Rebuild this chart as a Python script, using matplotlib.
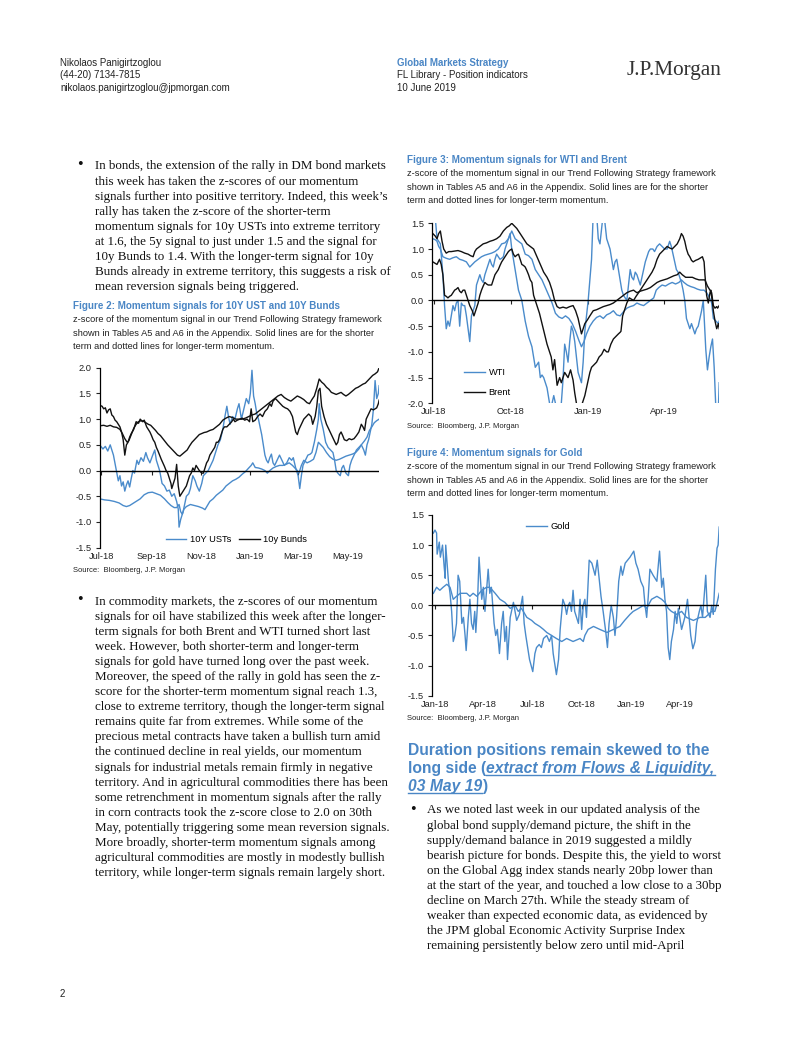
import matplotlib
matplotlib.use('Agg')
import matplotlib.pyplot as plt
from matplotlib import font_manager
from matplotlib.lines import Line2D
from matplotlib.ticker import FormatStrFormatter
import matplotlib.dates as mdates
import pandas as pd

# ---------------------------------------------------------------- data
# Figure 2: (days after 2018-07-01, z-score)
ust_short = [(-2,0.50),(2,0.42),(5,0.47),(8,0.38),(11,0.50),(13,0.40),(15,0.30),(18,0.05),(21,-0.20),(23,-0.10),
             (25,-0.30),(27,-0.22),(29,-0.40),(31,-0.28),(33,-0.20),(35,-0.32),(37,-0.15),(39,0.00),(41,-0.05),(44,0.20),
             (46,0.12),(49,0.25),(52,0.18),(55,0.35),(57,0.25),(60,0.15),(63,0.28),(66,0.40),(68,0.20),(70,0.10),
             (72,0.00),(75,-0.25),(78,-0.30),(81,-0.40),(84,-0.38),(87,-0.50),(90,-0.45),(93,-0.60),(95,-0.75),(96,-1.10),
             (98,-0.95),(101,-0.80),(103,-0.65),(105,-0.50),(108,-0.45),(110,-0.35),(113,-0.10),(116,-0.20),(118,-0.30),(121,-0.40),
             (124,-0.25),(126,-0.10),(129,-0.05),(132,0.00),(135,0.10),(138,0.20),(141,0.35),(144,0.50),(147,0.60),(150,0.80),
             (152,1.00),(155,1.25),(157,1.05),(159,0.90),(162,1.05),(165,1.00),(168,1.20),(170,1.30),(173,1.00),(176,1.20),
             (179,1.40),(182,1.30),(184,1.50),(186,1.95),(188,1.45),(190,1.30),(192,1.10),(194,1.00),(196,0.85),(198,0.70),
             (200,0.50),(202,0.30),(204,0.20),(206,0.15),(208,0.25),(210,0.32),(212,0.15),(214,0.10),(217,0.20),(220,0.30),
             (223,0.20),(226,0.10),(229,0.15),(232,0.25),(235,0.20),(237,0.25),(240,0.05),(243,-0.10),(245,-0.35),(247,-0.10),
             (249,0.10),(252,0.20),(255,0.30),(258,0.32),(260,0.35),(263,0.55),(266,0.80),(268,1.00),(269,1.30),(271,1.00),
             (274,0.80),(277,0.55),(280,0.45),(283,0.40),(286,0.35),(288,0.20),(290,0.00),(292,-0.05),(295,-0.10),(297,0.05),
             (299,0.10),(302,-0.05),(305,-0.10),(307,0.10),(309,0.20),(312,0.30),(315,0.40),(318,0.45),(321,0.50),(324,0.40),
             (326,0.30),(328,0.50),(330,0.60),(332,0.75),(334,0.90),(336,1.20),(338,1.75),(340,1.40),(342,1.50),(343,1.65)]
ust_long = [(-2,-0.55),(4,-0.57),(10,-0.58),(16,-0.60),(22,-0.63),(27,-0.68),(31,-0.70),(35,-0.68),(38,-0.65),(43,-0.60),
            (48,-0.55),(53,-0.47),(58,-0.43),(63,-0.42),(68,-0.45),(73,-0.48),(78,-0.55),(82,-0.62),(86,-0.68),(90,-0.72),
            (93,-0.72),(96,-0.66),(98,-0.80),(100,-0.85),(102,-0.75),(105,-0.70),(110,-0.66),(115,-0.68),(120,-0.70),(125,-0.73),
            (128,-0.76),(131,-0.68),(134,-0.60),(138,-0.55),(142,-0.48),(146,-0.43),(150,-0.38),(154,-0.30),(158,-0.25),(162,-0.20),
            (166,-0.17),(170,-0.13),(174,-0.07),(178,-0.02),(182,0.05),(185,0.10),(187,0.15),(190,0.06),(194,0.05),(198,0.03),
            (202,0.00),(205,-0.05),(208,0.00),(212,0.05),(216,0.08),(220,0.10),(224,0.10),(228,0.12),(232,0.15),(236,0.10),
            (239,0.05),(242,0.00),(244,-0.05),(247,0.10),(250,0.20),(254,0.15),(258,0.18),(262,0.22),(265,0.35),(268,0.55),
            (271,0.50),(274,0.45),(278,0.35),(282,0.27),(286,0.22),(290,0.20),(294,0.22),(298,0.25),(302,0.28),(306,0.30),
            (310,0.32),(314,0.35),(318,0.42),(321,0.50),(325,0.58),(328,0.65),(331,0.78),(334,0.85),(337,0.93),(340,0.97),(343,1.00)]
bund_short = [(-2,1.27),(1,1.25),(3,1.20),(5,1.22),(7,1.12),(9,1.18),(11,1.20),(13,1.08),(15,1.05),(17,0.98),
              (19,0.95),(21,0.90),(23,0.85),(25,0.75),(27,0.60),(29,0.30),(31,0.50),(33,0.55),(35,0.65),(37,0.72),
              (40,0.80),(43,0.95),(46,0.92),(48,1.00),(51,0.95),(53,0.98),(56,0.85),(58,0.80),(60,0.75),(62,0.68),
              (64,0.60),(66,0.55),(68,0.45),(70,0.38),(72,0.30),(74,0.22),(76,0.15),(78,0.08),(80,0.00),(82,-0.05),
              (84,-0.15),(86,-0.25),(87,-0.35),(89,-0.25),(91,-0.15),(93,0.12),(94,-0.10),(95,-0.30),(97,-0.50),(99,-0.45),
              (101,-0.40),(103,-0.35),(105,-0.30),(107,-0.20),(109,-0.10),(111,-0.05),(113,0.05),(115,0.00),(117,0.10),(119,0.05),
              (121,0.00),(124,-0.05),(126,-0.05),(128,0.05),(130,0.15),(132,0.20),(134,0.30),(136,0.35),(138,0.40),(140,0.45),
              (142,0.55),(144,0.55),(146,0.60),(148,0.70),(150,0.80),(152,0.85),(155,0.85),(158,0.90),(161,0.95),(163,1.00),
              (165,0.95),(168,0.98),(171,1.00),(174,1.02),(177,0.98),(180,1.00),(183,0.95),(185,1.20),(187,0.95),(190,0.98),
              (193,1.05),(196,1.10),(199,1.05),(202,1.15),(205,1.20),(208,1.30),(210,1.25),(212,1.35),(215,1.40),(218,1.35),
              (221,1.30),(224,1.25),(227,1.22),(230,1.20),(233,1.15),(236,1.05),(238,0.90),(240,0.75),(242,0.70),(244,0.80),
              (247,0.90),(250,1.00),(253,1.05),(256,1.10),(259,1.05),(261,0.90),(264,1.05),(266,1.25),(268,1.55),(270,1.60),
              (272,1.25),(275,1.05),(278,0.90),(281,0.80),(284,0.70),(287,0.60),(290,0.50),(292,0.55),(294,0.70),(296,0.75),
              (298,0.68),(300,0.60),(303,0.58),(306,0.62),(309,0.60),(312,0.62),(315,0.68),(318,0.75),(321,0.90),(323,0.85),
              (325,0.78),(327,1.00),(330,1.10),(333,1.20),(336,1.18),(338,1.20),(340,1.22),(342,1.30),(343,1.37)]
bund_long = [(-2,0.87),(3,0.88),(7,0.86),(11,0.88),(15,0.85),(19,0.84),(23,0.80),(26,0.72),(29,0.62),(32,0.55),
             (34,0.58),(37,0.70),(40,0.82),(43,0.90),(46,0.95),(49,0.97),(52,0.96),(55,0.93),(58,0.90),(61,0.88),
             (64,0.83),(67,0.78),(70,0.72),(73,0.68),(76,0.62),(79,0.56),(82,0.50),(85,0.45),(88,0.40),(91,0.35),
             (94,0.30),(97,0.28),(100,0.32),(103,0.36),(106,0.40),(109,0.48),(112,0.55),(115,0.60),(118,0.65),(121,0.70),
             (124,0.72),(127,0.74),(130,0.75),(134,0.78),(138,0.80),(142,0.85),(146,0.90),(150,0.98),(154,1.02),(158,1.05),
             (162,1.03),(166,1.00),(170,1.00),(174,1.00),(178,1.02),(182,1.05),(186,1.08),(190,1.10),(194,1.15),(198,1.20),
             (202,1.25),(206,1.30),(210,1.35),(214,1.40),(218,1.45),(222,1.48),(226,1.42),(230,1.38),(234,1.35),(238,1.40),
             (242,1.45),(246,1.42),(250,1.38),(254,1.32),(257,1.30),(260,1.38),(263,1.45),(266,1.60),(269,1.78),(272,1.72),
             (275,1.68),(278,1.62),(281,1.58),(284,1.52),(287,1.50),(290,1.48),(293,1.50),(296,1.52),(299,1.48),(302,1.45),
             (305,1.48),(308,1.52),(311,1.56),(314,1.60),(317,1.62),(320,1.65),(323,1.68),(326,1.70),(329,1.75),(332,1.80),
             (335,1.85),(338,1.88),(341,1.92),(343,2.00)]

# Figure 3: (days after 2018-07-01, z-score)
wti_short = [(-1,1.60),(2,1.60),(4,1.20),(6,1.15),(8,1.10),(11,0.50),(13,-0.10),(15,-0.55),(17,-0.40),(19,-0.50),
             (21,-0.30),(23,-0.10),(25,-0.20),(27,-0.05),(29,0.00),(31,-0.50),(33,-0.05),(35,-0.10),(37,-0.10),(39,-0.30),
             (43,-0.80),(45,-0.30),(47,-0.20),(49,-0.10),(51,0.30),(53,0.40),(55,0.50),(57,0.40),(59,0.35),(61,0.50),
             (63,0.60),(65,0.70),(67,0.80),(69,0.70),(71,0.65),(73,0.80),(75,0.90),(77,0.85),(79,0.80),(81,0.82),
             (83,0.85),(85,1.00),(87,1.10),(89,1.20),(91,1.30),(93,1.00),(95,0.80),(97,0.60),(99,0.40),(101,0.20),
             (103,0.10),(105,0.00),(107,-0.20),(109,-0.40),(111,-0.55),(113,-0.70),(115,-0.80),(117,-0.90),(119,-1.10),(121,-1.30),
             (123,-1.25),(125,-1.20),(127,-1.50),(129,-1.45),(131,-1.50),(133,-1.60),(135,-1.70),(137,-1.90),(139,-2.10),(141,-2.00),
             (143,-1.85),(145,-2.00),(147,-2.10),(150,-2.20),(152,-2.00),(154,-1.55),(156,-0.85),(158,-1.00),(160,-1.20),(162,-0.80),
             (164,-0.50),(166,-0.60),(168,-0.80),(170,-1.10),(172,-1.40),(174,-1.50),(176,-1.60),(178,-1.20),(180,-0.60),(182,-0.30),
             (184,0.00),(186,0.40),(188,0.80),(190,1.70),(194,1.70),(196,1.20),(198,1.10),(200,1.40),(202,1.70),(204,1.50),
             (206,1.20),(208,1.10),(210,1.00),(212,0.80),(214,0.60),(216,0.75),(218,0.80),(220,0.60),(222,0.40),(224,0.20),
             (226,0.10),(228,0.05),(230,0.00),(232,0.30),(234,0.60),(236,0.45),(238,0.40),(240,0.55),(242,0.50),(244,0.40),
             (246,0.30),(248,0.45),(250,0.60),(252,0.75),(254,0.85),(256,0.95),(258,1.00),(261,1.00),(263,0.95),(266,1.05),
             (269,1.10),(272,1.05),(275,1.00),(278,1.00),(281,1.15),(283,1.05),(285,0.90),(287,0.75),(289,0.60),(291,0.55),
             (293,0.45),(295,0.35),(297,0.20),(299,0.00),(301,-0.35),(303,-0.45),(305,-0.55),(307,-0.45),(309,-0.55),(311,-0.65),
             (313,-0.55),(315,-0.50),(317,-0.35),(319,-0.20),(321,0.00),(322,-0.30),(324,-0.95),(326,-1.35),(328,-1.10),(330,-0.90),
             (332,-0.75),(334,-1.30),(336,-2.10),(339,-2.10),(340,-1.60)]
wti_long = [(-1,1.20),(2,1.18),(4,1.15),(6,1.05),(8,1.00),(11,0.85),(15,0.82),(19,0.80),(23,0.83),(27,0.85),
            (31,0.80),(35,0.78),(39,0.75),(43,0.65),(46,0.70),(49,0.75),(53,0.80),(57,0.85),(61,0.88),(65,0.90),
            (69,0.92),(73,0.95),(77,1.00),(81,1.10),(85,1.12),(89,1.20),(93,1.35),(97,1.20),(101,1.15),(105,1.10),
            (109,0.90),(113,0.87),(117,0.80),(121,0.60),(125,0.50),(129,0.40),(133,0.25),(137,0.10),(141,-0.05),(145,-0.25),
            (149,-0.32),(153,-0.35),(157,-0.30),(161,-0.35),(165,-0.45),(169,-0.60),(173,-0.78),(176,-0.90),(179,-0.80),(182,-0.65),
            (186,-0.50),(190,-0.40),(194,-0.33),(198,-0.30),(202,-0.35),(206,-0.28),(210,-0.25),(214,-0.20),(218,-0.28),(222,-0.30),
            (226,-0.22),(230,-0.15),(234,-0.12),(238,-0.10),(242,-0.05),(246,-0.08),(250,-0.10),(254,-0.05),(258,0.00),(262,0.05),
            (265,0.20),(268,0.25),(272,0.30),(276,0.28),(280,0.32),(284,0.35),(288,0.32),(292,0.35),(295,0.40),(298,0.35),
            (302,0.30),(306,0.27),(310,0.25),(314,0.22),(318,0.20),(322,0.20),(325,0.15),(327,0.10),(330,0.00),(331,-0.05),
            (333,-0.35),(336,-0.40),(339,-0.45),(340,-0.40)]
brent_short = [(-1,0.75),(2,0.72),(4,0.70),(7,0.80),(9,0.70),(11,0.50),(13,0.10),(15,0.08),(17,0.05),(19,0.08),
               (21,0.10),(23,0.15),(25,0.20),(27,0.22),(29,0.25),(31,0.18),(33,0.15),(35,0.20),(37,0.20),(39,0.10),
               (41,0.00),(43,-0.10),(46,-0.20),(48,-0.30),(50,-0.20),(53,-0.05),(55,0.10),(57,0.20),(59,0.28),(61,0.35),
               (63,0.32),(65,0.30),(67,0.30),(69,0.30),(71,0.40),(73,0.50),(75,0.55),(77,0.60),(79,0.68),(81,0.75),
               (83,0.80),(85,0.85),(87,0.90),(89,0.95),(91,0.98),(93,1.00),(95,0.90),(97,0.85),(99,0.88),(101,0.90),
               (103,0.80),(105,0.70),(107,0.68),(109,0.65),(111,0.58),(113,0.50),(115,0.40),(117,0.35),(119,0.10),(121,0.00),
               (123,-0.10),(126,-0.25),(129,-0.45),(132,-0.65),(135,-0.85),(138,-1.00),(140,-1.10),(142,-1.35),(144,-1.15),(147,-1.65),
               (150,-1.50),(152,-1.60),(154,-1.50),(156,-1.40),(158,-1.45),(160,-1.50),(163,-1.35),(166,-1.55),(168,-1.80),(170,-2.00),
               (173,-2.05),(176,-2.05),(178,-1.95),(180,-1.85),(182,-1.70),(184,-1.55),(186,-1.40),(188,-1.30),(191,-1.25),(194,-1.20),
               (197,-1.10),(200,-1.05),(203,-0.95),(206,-1.00),(208,-1.00),(211,-0.85),(214,-0.75),(217,-0.70),(220,-0.65),(222,-0.62),
               (223,-0.60),(225,-0.30),(228,-0.15),(230,-0.05),(233,0.05),(236,0.02),(238,0.00),(241,0.08),(244,0.15),(248,0.25),
               (252,0.35),(256,0.45),(260,0.55),(263,0.65),(266,0.80),(269,0.90),(272,0.95),(275,1.00),(278,1.05),(281,1.02),
               (284,1.00),(287,1.05),(290,1.10),(293,1.20),(295,1.30),(297,1.25),(299,1.15),(301,1.00),(303,0.90),(305,0.85),
               (307,0.78),(309,0.75),(312,0.78),(315,0.80),(318,0.83),(320,0.85),(322,0.75),(323,0.50),(325,0.10),(327,-0.05),
               (329,0.15),(330,0.20),(332,-0.05),(333,-0.20),(335,-0.40),(337,-0.55),(339,-0.45),(340,-0.55)]
brent_long = [(-1,1.30),(2,1.25),(4,1.20),(6,1.30),(8,1.35),(10,1.15),(12,1.00),(15,0.92),(18,0.95),(21,0.95),
              (25,0.96),(29,0.97),(33,0.95),(37,0.92),(41,0.90),(44,0.87),(47,0.85),(49,0.95),(51,1.00),(55,1.05),
              (59,1.10),(63,1.12),(67,1.15),(71,1.17),(75,1.20),(79,1.25),(83,1.35),(87,1.42),(90,1.45),(93,1.50),
              (96,1.45),(99,1.40),(103,1.30),(107,1.20),(111,1.10),(115,1.05),(119,1.00),(123,0.85),(127,0.70),(131,0.55),
              (135,0.45),(138,0.35),(141,0.20),(144,0.00),(147,-0.12),(150,-0.15),(154,-0.13),(158,-0.15),(162,-0.12),(166,-0.10),
              (169,-0.20),(172,-0.35),(174,-0.50),(176,-0.65),(178,-0.55),(180,-0.45),(183,-0.38),(186,-0.30),(190,-0.20),(194,-0.18),
              (198,-0.15),(202,-0.12),(206,-0.10),(210,-0.08),(214,-0.05),(218,0.00),(222,0.05),(226,0.10),(230,0.15),(234,0.18),
              (238,0.20),(242,0.15),(246,0.18),(250,0.20),(254,0.22),(258,0.25),(262,0.30),(266,0.35),(270,0.38),(274,0.40),
              (278,0.42),(282,0.45),(286,0.48),(290,0.50),(293,0.55),(296,0.50),(300,0.45),(304,0.45),(308,0.45),(312,0.42),
              (316,0.40),(320,0.40),(323,0.40),(326,0.28),(329,0.20),(331,0.15),(333,-0.10),(335,-0.15),(337,-0.12),(338,-0.15),(340,-0.10)]

# Figure 4: (days after 2018-01-01, z-score)
gold_short = [(-3,1.20),(0,1.25),(3,1.20),(4,0.85),(8,1.05),(10,0.80),(14,1.00),(17,0.65),(19,0.45),(20,1.00),
              (25,0.40),(28,0.20),(31,-0.10),(34,-0.60),(37,-0.50),(40,-0.30),(43,0.50),(46,0.40),(50,-0.30),(53,-0.20),
              (56,-0.50),(58,-0.75),(62,-0.20),(65,0.10),(68,-0.30),(71,-0.40),(74,-0.10),(76,-0.45),(79,0.00),(82,0.80),
              (87,0.10),(90,0.30),(93,-0.10),(99,0.60),(102,0.20),(105,0.30),(110,-0.30),(113,-0.50),(116,-0.40),(120,-0.80),
              (124,-0.30),(127,-0.10),(130,-0.60),(133,-0.35),(135,-0.90),(140,-0.20),(146,0.05),(152,-0.25),(157,-0.15),(163,0.15),
              (166,-0.30),(169,-0.50),(176,-0.90),(182,-1.10),(186,-0.80),(189,-0.70),(194,-0.65),(198,-0.70),(202,-0.55),(208,-0.50),
              (213,-0.60),(217,-0.50),(220,-0.80),(226,-1.15),(230,-0.90),(233,-0.40),(238,0.10),(242,0.00),(245,-0.15),(248,0.00),
              (251,0.05),(254,-0.10),(257,0.25),(260,-0.10),(267,-0.30),(270,0.10),(273,-0.40),(276,0.00),(279,0.10),(282,-0.20),
              (287,0.75),(292,0.70),(295,0.60),(298,0.50),(302,0.75),(306,0.40),(309,0.15),(313,-0.10),(318,-0.45),(321,-0.70),
              (324,-0.30),(328,0.00),(332,-0.20),(335,-0.50),(338,-0.20),(342,0.40),(346,0.65),(349,0.50),(354,0.70),(363,0.80),
              (370,0.90),(374,0.70),(378,0.60),(383,0.40),(388,0.30),(391,0.00),(394,-0.20),(397,0.15),(400,0.60),(406,0.50),
              (413,0.40),(418,0.90),(422,0.30),(425,0.45),(428,0.10),(431,-0.10),(434,-0.70),(437,-0.90),(440,-0.60),(444,-0.40),
              (447,-0.10),(450,-0.30),(453,-0.05),(459,-0.40),(465,-0.20),(470,0.10),(473,-0.20),(476,-0.50),(480,-0.72),(484,-0.60),
              (487,-0.30),(492,-0.10),(495,0.00),(498,-0.20),(504,0.50),(507,-0.10),(512,-0.20),(515,0.00),(518,-0.15),(522,0.60),
              (525,0.95),(527,1.00),(529,1.30)]
gold_long = [(-3,0.20),(3,0.30),(9,0.25),(15,0.30),(22,0.35),(28,0.30),(34,0.10),(40,0.15),(47,0.20),(59,0.20),
             (65,0.15),(71,0.20),(78,0.15),(87,0.25),(96,0.30),(102,0.30),(112,0.20),(121,0.10),(130,0.05),(140,-0.05),
             (149,0.00),(155,-0.10),(161,-0.05),(171,-0.20),(180,-0.25),(186,-0.30),(195,-0.35),(202,-0.40),(208,-0.45),(217,-0.50),
             (226,-0.55),(236,-0.60),(245,-0.55),(257,-0.60),(270,-0.55),(276,-0.60),(279,-0.50),(285,-0.40),(295,-0.35),(307,-0.40),
             (320,-0.45),(332,-0.40),(344,-0.35),(353,-0.25),(363,-0.15),(369,-0.10),(379,-0.05),(388,0.00),(394,-0.05),(397,0.00),
             (403,0.10),(413,0.15),(422,0.10),(428,0.05),(434,-0.05),(440,-0.10),(450,-0.15),(459,-0.10),(468,-0.20),(481,-0.25),
             (493,-0.20),(503,-0.20),(509,-0.15),(515,-0.10),(521,-0.10),(524,0.00),(529,0.20)]

fig2_ticks = ['2018-07-01', '2018-09-01', '2018-11-01', '2019-01-01', '2019-03-01', '2019-05-01']
fig3_ticks = ['2018-07-01', '2018-10-01', '2019-01-01', '2019-04-01']
fig4_ticks = ['2018-01-01', '2018-04-01', '2018-07-01', '2018-10-01', '2019-01-01', '2019-04-01']

para1 = ["In bonds, the extension of the rally in DM bond markets",
         "this week has taken the z-scores of our momentum",
         "signals further into positive territory. Indeed, this week\u2019s",
         "rally has taken the z-score of the shorter-term",
         "momentum signals for 10y USTs into extreme territory",
         "at 1.6, the 5y signal to just under 1.5 and the signal for",
         "10y Bunds to 1.4. With the longer-term signal for 10y",
         "Bunds already in extreme territory, this suggests a risk of",
         "mean reversion signals being triggered."]
para2 = ["In commodity markets, the z-scores of our momentum",
         "signals for oil have stabilized this week after the longer-",
         "term signals for both Brent and WTI turned short last",
         "week. However, both shorter-term and longer-term",
         "signals for gold have turned long over the past week.",
         "Moreover, the speed of the rally in gold has seen the z-",
         "score for the shorter-term momentum signal reach 1.3,",
         "close to extreme territory, though the longer-term signal",
         "remains quite far from extremes. While some of the",
         "precious metal contracts have taken a bullish turn amid",
         "the continued decline in real yields, our momentum",
         "signals for industrial metals remain firmly in negative",
         "territory. And in agricultural commodities there has been",
         "some retrenchment in momentum signals after the rally",
         "in corn contracts took the z-score close to 2.0 on 30th",
         "May, potentially triggering some mean reversion signals.",
         "More broadly, shorter-term momentum signals among",
         "agricultural commodities are mostly in modestly bullish",
         "territory, while longer-term signals remain largely short."]
para3 = ["As we noted last week in our updated analysis of the",
         "global bond supply/demand picture, the shift in the",
         "supply/demand balance in 2019 suggested a mildly",
         "bearish picture for bonds. Despite this, the yield to worst",
         "on the Global Agg index stands nearly 20bp lower than",
         "at the start of the year, and touched a low close to a 30bp",
         "decline on March 27th. While the steady stream of",
         "weaker than expected economic data, as evidenced by",
         "the JPM global Economic Activity Surprise Index",
         "remaining persistently below zero until mid-April"]
desc = ["z-score of the momentum signal in our Trend Following Strategy framework",
        "shown in Tables A5 and A6 in the Appendix. Solid lines are for the shorter",
        "term and dotted lines for longer-term momentum."]

# ---------------------------------------------------------------- setup
W, H = 802, 1037
plt.rcParams['axes.unicode_minus'] = False
fig = plt.figure(figsize=(W / 100, H / 100), dpi=100)
renderer = fig.canvas.get_renderer()

names = {f.name for f in font_manager.fontManager.ttflist}
SANS = 'Liberation Sans'
NARROW = 'Liberation Sans Narrow' if 'Liberation Sans Narrow' in names else 'Liberation Sans'
SERIF = 'Liberation Serif'
BLUE_T = '#4A86C5'
BLUE_L = '#4A8BCB'
BLACK = '#111111'


def fx(x):
    return x / W


def fy(y):
    return 1 - y / H


def fit(s, target, **kw):
    t = fig.text(0, 0, s, fontsize=10, **kw)
    w = t.get_window_extent(renderer).width
    t.remove()
    return 10.0 * target / w


def txt(x, y, s, **kw):
    kw.setdefault('va', 'center')
    kw.setdefault('ha', 'left')
    return fig.text(fx(x), fy(y), s, **kw)


# ---------------------------------------------------------------- header
hs = fit("Nikolaos Panigirtzoglou", 103, family=NARROW)
txt(60, 63, "Nikolaos Panigirtzoglou", family=NARROW, fontsize=hs, color='#222222')
txt(60, 75.5, "(44-20) 7134-7815", family=NARROW, fontsize=hs, color='#222222')
txt(60, 88, "nikolaos.panigirtzoglou@jpmorgan.com", family=NARROW, fontsize=hs, color='#222222')
txt(397, 63, "Global Markets Strategy", family=NARROW, fontsize=hs, color=BLUE_T, weight='bold')
txt(397, 75.5, "FL Library - Position indicators", family=NARROW, fontsize=hs, color='#222222')
txt(397, 88, "10 June 2019", family=NARROW, fontsize=hs, color='#222222')
ls = fit("J.P.Morgan", 95, family=SERIF)
txt(627, 71, "J.P.Morgan", family=SERIF, fontsize=ls, color='#333333')
txt(60, 994, "2", family=SANS, fontsize=hs, color='#222222')

# ---------------------------------------------------------------- body text
bs = fit(para1[0], 292, family=SERIF)


def para(lines, xt, xb, y0, dy):
    txt(xb, y0, '\u2022', family=SERIF, fontsize=bs * 1.25, va='baseline', ha='center', color='#111111')
    for i, s in enumerate(lines):
        txt(xt, y0 + i * dy, s, family=SERIF, fontsize=bs, va='baseline', color='#111111')


para(para1, 95, 80, 169.5, 15.05)
para(para2, 95, 80, 604.5, 15.1)
para(para3, 427, 413, 813.5, 15.08)

# captions
cs = fit("Figure 2: Momentum signals for 10Y UST and 10Y Bunds", 267, family=NARROW, weight='bold')
ds = fit(desc[0], 311, family=NARROW)


def caption(x, y, title):
    txt(x, y, title, family=NARROW, weight='bold', fontsize=cs, color=BLUE_T)
    for i, s in enumerate(desc):
        txt(x, y + 14 + i * 13.4, s, family=NARROW, fontsize=ds, color='#222222')


caption(73, 306, "Figure 2: Momentum signals for 10Y UST and 10Y Bunds")
caption(407, 160, "Figure 3: Momentum signals for WTI and Brent")
caption(407, 453, "Figure 4: Momentum signals for Gold")

ss = fit("Source:  Bloomberg, J.P. Morgan", 113, family=NARROW)
txt(73, 571, "Source:  Bloomberg, J.P. Morgan", family=NARROW, fontsize=ss, color='#222222')
txt(407, 426.5, "Source:  Bloomberg, J.P. Morgan", family=NARROW, fontsize=ss, color='#222222')
txt(407, 718, "Source:  Bloomberg, J.P. Morgan", family=NARROW, fontsize=ss, color='#222222')

# heading with underlined italic part
hd = fit("Duration positions remain skewed to the", 301, family=SANS, weight='bold')


def runs(x, y, parts):
    cx = x
    for s, italic, ul in parts:
        t = fig.text(fx(cx), fy(y), s, family=SANS, weight='bold', style='italic' if italic else 'normal',
                     fontsize=hd, color=BLUE_T, va='baseline', ha='left')
        w = t.get_window_extent(renderer).width
        if ul:
            fig.add_artist(Line2D([fx(cx), fx(cx + w)], [fy(y + 2.2), fy(y + 2.2)],
                                  transform=fig.transFigure, color=BLUE_T, lw=1.0))
        cx += w


runs(408, 755, [("Duration positions remain skewed to the", False, False)])
runs(408, 772.5, [("long side (", False, False), ("extract from Flows & Liquidity,", True, True)])
runs(408, 790.5, [("03 May 19", True, True), (")", False, False)])

# ---------------------------------------------------------------- charts
tk = fit("May-19", 26.7, family=NARROW) * 1.15


def unpack(base, pairs):
    d = [p[0] for p in pairs]
    v = [p[1] for p in pairs]
    return pd.Timestamp(base) + pd.to_timedelta(d, unit='D'), v


def chart(rect, base, xr, ylim, yticks, xticks, series):
    l, t, r, b = rect
    ax = fig.add_axes([fx(l), fy(b), (r - l) / W, (b - t) / H])
    for pairs, col in series:
        x, v = unpack(base, pairs)
        ax.plot(x, v, color=col, lw=1.0, solid_joinstyle='round', zorder=2)
    ax.set_xlim(pd.Timestamp(base) + pd.Timedelta(days=xr[0]), pd.Timestamp(base) + pd.Timedelta(days=xr[1]))
    ax.set_ylim(*ylim)
    ax.axhline(0, color='black', lw=1.0, zorder=3)
    for s in ['top', 'right']:
        ax.spines[s].set_visible(False)
    ax.spines['bottom'].set_position(('data', 0))
    ax.spines['bottom'].set_visible(False)
    ax.spines['left'].set_linewidth(0.9)
    ax.spines['left'].set_color('black')
    ax.set_yticks(yticks)
    ax.yaxis.set_major_formatter(FormatStrFormatter('%.1f'))
    ax.set_xticks(pd.to_datetime(xticks))
    ax.xaxis.set_major_formatter(mdates.DateFormatter('%b-%y'))
    ax.tick_params(axis='y', length=3, width=0.8, direction='out', pad=3, labelsize=tk,
                   labelfontfamily=NARROW, colors='#222222')
    zero_px = (b - t) * (0 - ylim[0]) / (ylim[1] - ylim[0])
    pad = (zero_px + 3.0) * 0.72 - 2.2
    ax.tick_params(axis='x', length=3, width=0.8, direction='out', pad=pad, labelsize=tk,
                   labelfontfamily=NARROW, colors='#222222')
    ax.patch.set_alpha(0)
    return ax


ax1 = chart((100, 367.7, 379.3, 547.7), '2018-07-01', (-1.6, 343.2), (-1.5, 2.0),
            [-1.5, -1.0, -0.5, 0.0, 0.5, 1.0, 1.5, 2.0], fig2_ticks,
            [(ust_long, BLUE_L), (ust_short, BLUE_L), (bund_long, BLACK), (bund_short, BLACK)])
ax1.legend([Line2D([], [], color=BLUE_L, lw=1.0), Line2D([], [], color=BLACK, lw=1.0)],
           ["10Y USTs", "10y Bunds"], loc='lower left', bbox_to_anchor=(0.235, 0.02), ncol=2,
           frameon=False, borderpad=0, borderaxespad=0, handlelength=2.2, handletextpad=0.4,
           columnspacing=0.9, prop={'family': NARROW, 'size': tk})

ax2 = chart((432.3, 223.3, 719.3, 403.3), '2018-07-01', (-1.6, 340.1), (-2.0, 1.5),
            [-2.0, -1.5, -1.0, -0.5, 0.0, 0.5, 1.0, 1.5], fig3_ticks,
            [(wti_long, BLUE_L), (wti_short, BLUE_L), (brent_long, BLACK), (brent_short, BLACK)])
ax2.legend([Line2D([], [], color=BLUE_L, lw=1.0), Line2D([], [], color=BLACK, lw=1.0)],
           ["WTI", "Brent"], loc='lower left', bbox_to_anchor=(0.112, 0.035), ncol=1,
           frameon=False, borderpad=0, borderaxespad=0, handlelength=2.2, handletextpad=0.4,
           labelspacing=1.15, prop={'family': NARROW, 'size': tk})

ax3 = chart((432.3, 515.0, 719.3, 695.7), '2018-01-01', (-5, 529.2), (-1.5, 1.5),
            [-1.5, -1.0, -0.5, 0.0, 0.5, 1.0, 1.5], fig4_ticks,
            [(gold_long, BLUE_L), (gold_short, BLUE_L)])
ax3.legend([Line2D([], [], color=BLUE_L, lw=1.0)], ["Gold"], loc='upper left',
           bbox_to_anchor=(0.328, 0.96), frameon=False, borderpad=0, borderaxespad=0,
           handlelength=2.2, handletextpad=0.4, prop={'family': NARROW, 'size': tk})

fig.savefig('out.png', dpi=100)
